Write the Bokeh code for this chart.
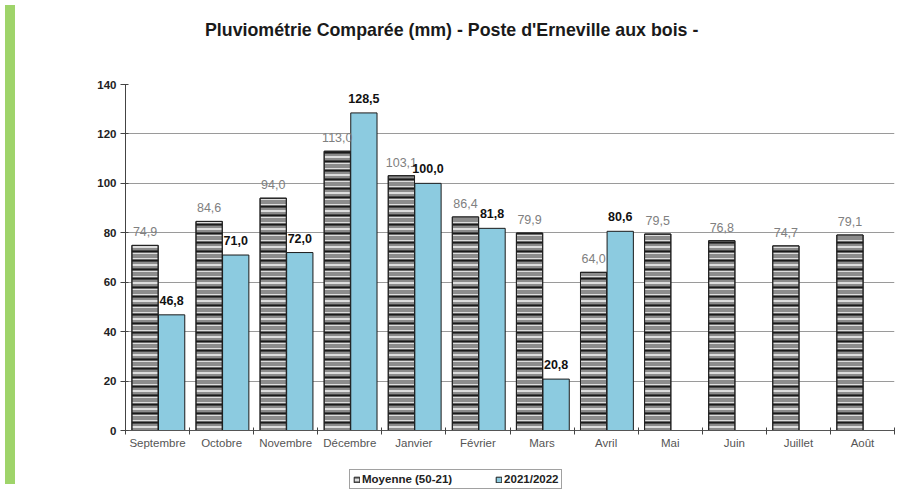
from bokeh.plotting import figure
from bokeh.models import (ColumnDataSource, LabelSet, FixedTicker, Legend, LegendItem,
                          Div, Range1d)
from bokeh.core.properties import value
from bokeh.layouts import row, column
from bokeh.embed import file_html
from bokeh.resources import INLINE

title_text = "Pluviométrie Comparée (mm) - Poste d'Erneville aux bois -"
months = ["Septembre", "Octobre", "Novembre", "Décembre", "Janvier", "Février",
          "Mars", "Avril", "Mai", "Juin", "Juillet", "Août"]
moyenne = [74.9, 84.6, 94.0, 113.0, 103.1, 86.4, 79.9, 64.0, 79.5, 76.8, 74.7, 79.1]
saison = [46.8, 71.0, 72.0, 128.5, 100.0, 81.8, 20.8, 80.6, None, None, None, None]
y_ticks = [0, 20, 40, 60, 80, 100, 120, 140]

FONT = "Liberation Sans"
MOY_STYLE = dict(fill_color="#8c8c8c", line_color="#222222", line_width=1,
                 hatch_pattern="horizontal_line", hatch_color="#f2f2f2",
                 hatch_scale=6, hatch_weight=1.6)
MOY_STYLE2 = dict(fill_color=None, line_color="#222222", line_width=1,
                  hatch_pattern="horizontal_line", hatch_color="#1a1a1a",
                  hatch_scale=9, hatch_weight=2.2)
S_STYLE = dict(fill_color="#8ccbe0", line_color="#1a1a1a", line_width=1)

def fr(v):
    return f"{v:.1f}".replace(".", ",")

n = len(months)
src_moy = ColumnDataSource(dict(x=[i + 0.305 for i in range(n)], top=moyenne,
                                lab=[fr(v) for v in moyenne]))
idx = [i for i, v in enumerate(saison) if v is not None]
src_s = ColumnDataSource(dict(x=[i + 0.72 for i in idx], top=[saison[i] for i in idx],
                              lab=[fr(saison[i]) for i in idx]))

W = 876
title_div = Div(text=('<div style="padding:13px 0 0 180px; font-family:\'Liberation Sans\';'
                      'font-size:17.8px; font-weight:bold; color:#1a1a1a; white-space:nowrap">'
                      + title_text + '</div>'), width=W, height=47)

p = figure(width=W, height=401, output_backend="svg", toolbar_location=None,
           x_range=Range1d(0, n), y_range=Range1d(0, 140),
           min_border_left=105, min_border_right=2, min_border_top=27, min_border_bottom=28)
p.outline_line_color = None
p.background_fill_color = "white"
p.border_fill_color = "white"

w = 0.41
p.vbar(x="x", top="top", width=w, bottom=0, source=src_moy, **MOY_STYLE)
p.vbar(x="x", top="top", width=w, bottom=0, source=src_moy, **MOY_STYLE2)
p.vbar(x="x", top="top", width=w, bottom=0, source=src_s, **S_STYLE)

p.add_layout(LabelSet(x="x", y="top", text="lab", source=src_moy, text_align="center",
                      text_baseline="bottom", y_offset=9, text_font=value(FONT),
                      text_font_size="12.5px", text_color="#808080"))
p.add_layout(LabelSet(x="x", y="top", text="lab", source=src_s, text_align="center",
                      text_baseline="bottom", y_offset=10, text_font=value(FONT),
                      text_font_size="12.5px", text_font_style="bold", text_color="#111111"))

p.xgrid.grid_line_color = None
p.ygrid.grid_line_color = "#9a9a9a"
p.ygrid.grid_line_width = 1
p.yaxis.ticker = FixedTicker(ticks=y_ticks)
p.yaxis.minor_tick_line_color = None
p.yaxis.major_tick_in = 3
p.yaxis.major_tick_out = 5
p.yaxis.axis_line_color = "#444444"
p.yaxis.major_tick_line_color = "#444444"
p.yaxis.major_label_text_font = FONT
p.yaxis.major_label_text_font_size = "11.5px"
p.yaxis.major_label_text_font_style = "bold"
p.yaxis.major_label_text_color = "#222222"
p.yaxis.major_label_standoff = 4

centers = [i + 0.5 for i in range(n)]
p.xaxis.ticker = FixedTicker(ticks=centers, minor_ticks=list(range(n + 1)))
p.xaxis.major_label_overrides = {c: m for c, m in zip(centers, months)}
p.xaxis.major_tick_line_color = None
p.xaxis.major_tick_in = 0
p.xaxis.major_tick_out = 0
p.xaxis.minor_tick_line_color = "#444444"
p.xaxis.minor_tick_in = 3
p.xaxis.minor_tick_out = 4
p.xaxis.axis_line_color = "#555555"
p.xaxis.major_label_text_font = FONT
p.xaxis.major_label_text_font_size = "11.5px"
p.xaxis.major_label_text_color = "#555555"
p.xaxis.major_label_standoff = 2

# legend in its own strip below the chart
lf = figure(width=W, height=31, output_backend="svg", toolbar_location=None,
            x_range=Range1d(0, 1), y_range=Range1d(0, 1), min_border=0,
            x_axis_location=None, y_axis_location=None)
lf.grid.grid_line_color = None
lf.outline_line_color = None
l_moy = lf.vbar(x=[5], bottom=[-2], top=[-1], width=0.1, **MOY_STYLE)
l_s = lf.vbar(x=[5], bottom=[-2], top=[-1], width=0.1, **S_STYLE)
legend = Legend(items=[LegendItem(label="Moyenne (50-21)", renderers=[l_moy]),
                       LegendItem(label="2021/2022", renderers=[l_s])],
                orientation="horizontal", location=(224, 0))
legend.label_text_font = FONT
legend.label_text_font_size = "11.5px"
legend.label_text_font_style = "bold"
legend.label_text_color = "#222222"
legend.glyph_width = 7
legend.glyph_height = 7
legend.label_standoff = 2
legend.spacing = 43
legend.padding = 3
legend.margin = 0
legend.border_line_color = "#444444"
legend.border_line_width = 1.5
legend.label_height = 12
lf.add_layout(legend, "center")

strip = Div(width=10, height=479, styles={"background-color": "#9fd46a"})
layout = row(strip, column(title_div, p, lf, spacing=0), spacing=0)

open("out.html", "w").write(file_html(layout, INLINE))
